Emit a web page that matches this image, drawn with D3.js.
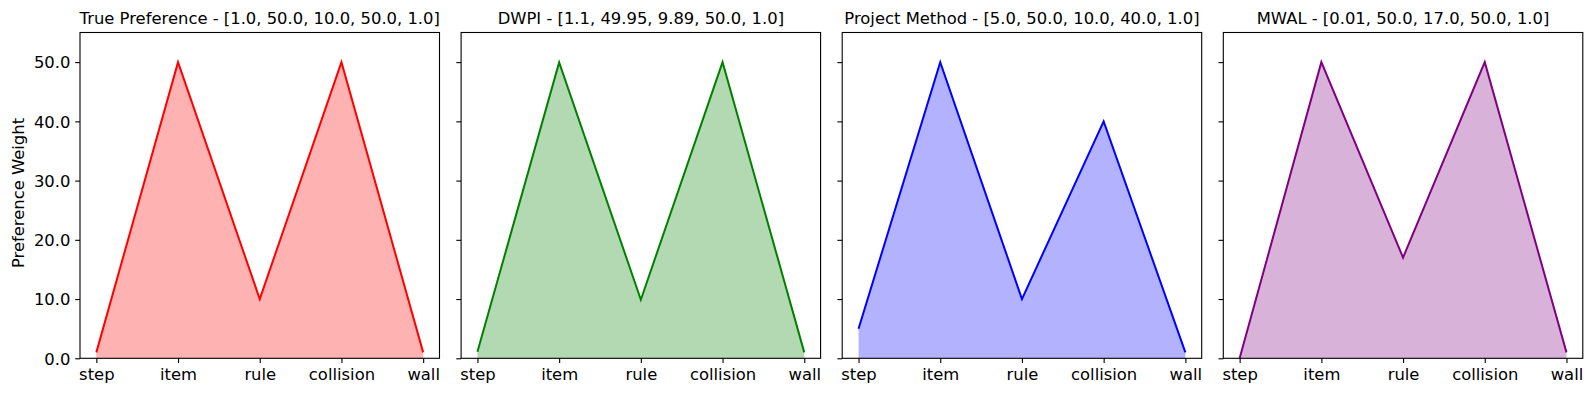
<!DOCTYPE html>
<html>
<head>
<meta charset="utf-8">
<script src="https://cdn.jsdelivr.net/npm/d3@7"></script>
<style>
  body { margin: 0; background: #fff; }
  svg { display: block; font-family: "DejaVu Sans", sans-serif; }
</style>
</head>
<body>
<div id="chart"></div>
<script>
// data
var categories = ["step", "item", "rule", "collision", "wall"];
var trueVals = [1.0, 50.0, 10.0, 50.0, 1.0];
var dwpiVals = [1.1, 49.95, 9.89, 50.0, 1.0];
var projVals = [5.0, 50.0, 10.0, 40.0, 1.0];
var mwalVals = [0.01, 50.0, 17.0, 50.0, 1.0];
var titles = [
  "True Preference - [1.0, 50.0, 10.0, 50.0, 1.0]",
  "DWPI - [1.1, 49.95, 9.89, 50.0, 1.0]",
  "Project Method - [5.0, 50.0, 10.0, 40.0, 1.0]",
  "MWAL - [0.01, 50.0, 17.0, 50.0, 1.0]"
];
var yTicks = [0, 10, 20, 30, 40, 50];
var colors = ["#ff0000", "#008000", "#0000ff", "#800080"];

var W = 1591, H = 396;
var fontSize = 16.4;
var tickLen = 4.8, tickPad = 4.8;
var panelW = 359.5, panelStep = 381.1;
var plotTop = 32.5, plotBottom = 358.3;
var lefts = [80, 80 + panelStep, 80 + 2 * panelStep, 80 + 3 * panelStep];

var series = [trueVals, dwpiVals, projVals, mwalVals];

var svg = d3.select("#chart").append("svg")
  .attr("width", W).attr("height", H)
  .attr("viewBox", [0, 0, W, H]);

var y = d3.scaleLinear().domain([0, 55]).range([plotBottom, plotTop]);

series.forEach(function (vals, k) {
  var x = d3.scaleLinear().domain([-0.2, 4.2]).range([0, panelW]);
  var g = svg.append("g").attr("transform", "translate(" + lefts[k] + ",0)");

  var area = d3.area()
    .x(function (d, i) { return x(i); })
    .y0(y(0))
    .y1(function (d) { return y(d); });
  var line = d3.line()
    .x(function (d, i) { return x(i); })
    .y(function (d) { return y(d); });

  g.append("path").datum(vals)
    .attr("d", area)
    .attr("fill", colors[k])
    .attr("fill-opacity", 0.3);
  g.append("path").datum(vals)
    .attr("d", line)
    .attr("fill", "none")
    .attr("stroke", colors[k])
    .attr("stroke-width", 2)
    .attr("stroke-linejoin", "miter");

  // x axis
  var xAxis = d3.axisBottom(x)
    .tickValues(d3.range(categories.length))
    .tickFormat(function (i) { return categories[i]; })
    .tickSize(tickLen).tickPadding(tickPad);
  var gx = g.append("g").attr("transform", "translate(0," + plotBottom + ")").call(xAxis);
  gx.select(".domain").remove();
  gx.attr("font-size", fontSize).attr("font-family", "DejaVu Sans");
  gx.selectAll("line").attr("stroke", "#000").attr("stroke-width", 1.1);
  gx.selectAll("text").attr("fill", "#000").attr("dy", "0.74em");

  // y axis
  var yAxis = d3.axisLeft(y)
    .tickValues(yTicks)
    .tickFormat(k === 0 ? d3.format(".1f") : "")
    .tickSize(tickLen).tickPadding(tickPad);
  var gy = g.append("g").call(yAxis);
  gy.select(".domain").remove();
  gy.attr("font-size", fontSize).attr("font-family", "DejaVu Sans");
  gy.selectAll("line").attr("stroke", "#000").attr("stroke-width", 1.1);
  gy.selectAll("text").attr("fill", "#000").attr("dy", "0.35em");

  // frame
  g.append("rect")
    .attr("x", 0).attr("y", plotTop)
    .attr("width", panelW).attr("height", plotBottom - plotTop)
    .attr("fill", "none").attr("stroke", "#000").attr("stroke-width", 1.1);

  // title
  g.append("text")
    .attr("x", panelW / 2).attr("y", plotTop - 8.2)
    .attr("text-anchor", "middle")
    .attr("font-size", fontSize)
    .text(titles[k]);
});

svg.append("text")
  .attr("transform", "translate(23.5,193) rotate(-90)")
  .attr("text-anchor", "middle")
  .attr("font-size", fontSize)
  .text("Preference Weight");
</script>
</body>
</html>
